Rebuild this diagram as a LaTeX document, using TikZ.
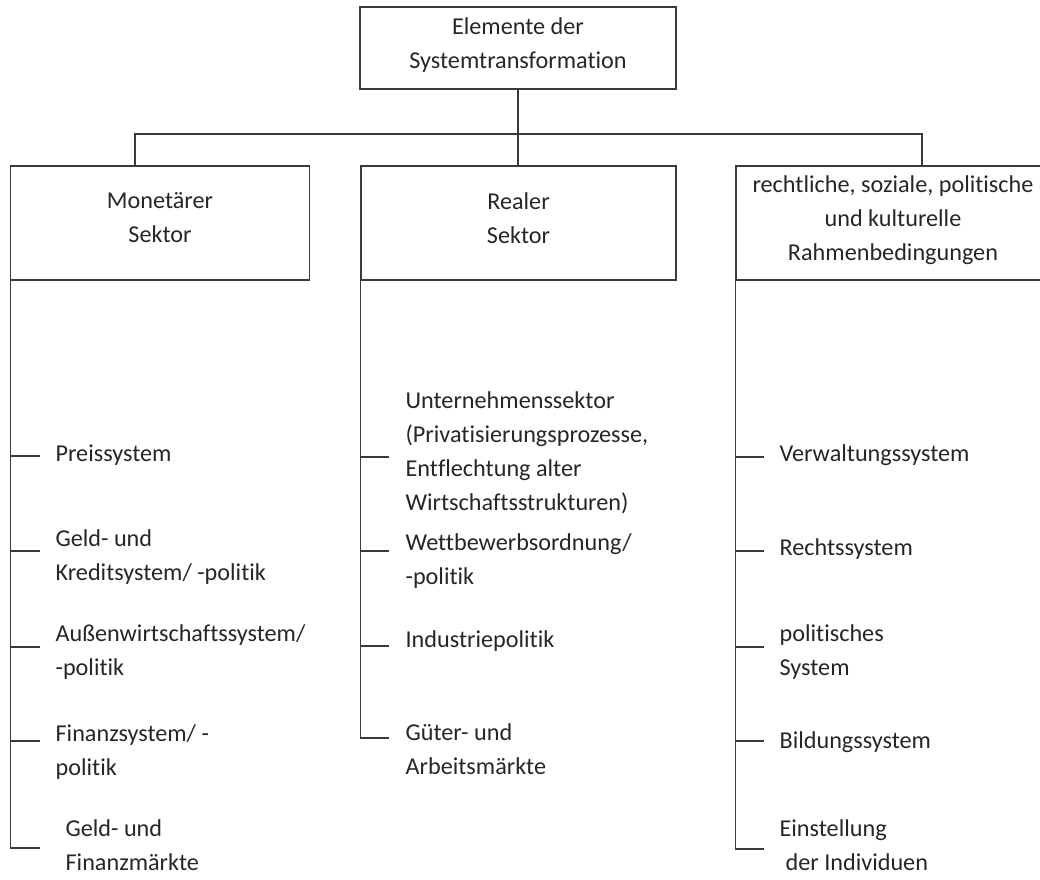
\documentclass[tikz,border=0pt]{standalone}
\usepackage{fontspec}
\setmainfont{Carlito}[Ligatures=NoCommon]
\definecolor{ink}{HTML}{3A3A3A}
\definecolor{inktext}{HTML}{262626}
\begin{document}
\begin{tikzpicture}[x=1pt,y=-1pt, color=ink, text=inktext, line width=1.2pt, line cap=rect,
	font=\fontsize{24.2}{34}\selectfont,
	box/.style={draw, align=center, inner sep=0pt, minimum height=114pt,
		execute at begin node=\strut, execute at end node=\strut},
	item/.style={anchor=north west, align=left, inner sep=0pt, yshift=23.8pt,
		execute at begin node=\strut}]
	\useasboundingbox (0,0) rectangle (1040,879);
	\clip (0,0) rectangle (1040,879);
	% Kopf und Sektoren
	\node[box, minimum width=316pt, minimum height=82pt] (elem) at (518,48) {Elemente der\\Systemtransformation};
	\node[box, minimum width=298.5pt] (mon) at (160,223) {Monet\"arer\\Sektor};
	\node[box, minimum width=315pt] (real) at (518.5,223) {Realer\\Sektor};
	\node[box, minimum width=314pt] (recht) at (893,223) {rechtliche, soziale, politische\\und kulturelle\\Rahmenbedingungen};
	\draw (elem.south) -- (elem.south |- real.north);
	\draw ([xshift=-25pt]mon.north) |- ([xshift=29pt]recht.north |- 0,134) -- ([xshift=29pt]recht.north);
	% Monetaerer Sektor
	\draw (mon.south west) -- (mon.south west |- 0,848);
	\foreach \y in {456,551,647,741,848} \draw (mon.south west |- 0,\y) -- ++(29,0);
	\node[item] (preis) at (55,460.7) {Preissystem};
	\node[item] (geld) at (55,553.3) {Geld- und\\Kreditsystem/ -politik};
	\node[item] (aussen) at (55,648.3) {Au\ss enwirtschaftssystem/\\-politik};
	\node[item] (finanz) at (55,748.3) {Finanzsystem/ -\\politik};
	\node[item] (gfm) at (65,842.7) {Geld- und\\Finanzm\"arkte};
	% Realer Sektor
	\draw (real.south west) -- (real.south west |- 0,738);
	\foreach \y in {457,551,646,738} \draw (real.south west |- 0,\y) -- ++(28,0);
	\node[item] (unt) at (405,415) {Unternehmenssektor\\(Privatisierungsprozesse,\\Entflechtung alter\\Wirtschaftsstrukturen)};
	\node[item, fill=white, inner ysep=18pt, yshift=18pt] (wett) at (405,556.7) {Wettbewerbsordnung/\\-politik};
	\node[item] (ind) at (405,646.7) {Industriepolitik};
	\node[item] (gam) at (405,746.7) {G\"uter- und\\Arbeitsm\"arkte};
	% Rahmenbedingungen
	\draw (recht.south west) -- (recht.south west |- 0,849);
	\foreach \y in {457,551,647,741,849} \draw (recht.south west |- 0,\y) -- ++(27.5,0);
	\node[item] (verw) at (779,460.7) {Verwaltungssystem};
	\node[item] (rs) at (779,555) {Rechtssystem};
	\node[item] (pol) at (779,648.3) {politisches\\System};
	\node[item] (bild) at (779,748.3) {Bildungssystem};
	\node[item] (einst) at (779,843.3) {Einstellung\\\hspace*{6pt}der Individuen};
\end{tikzpicture}
\end{document}
